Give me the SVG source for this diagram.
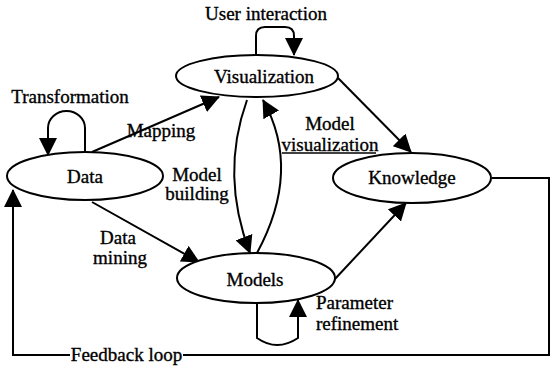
<svg xmlns="http://www.w3.org/2000/svg" width="552" height="366" viewBox="0 0 552 366">
<defs>
<marker id="ah" markerUnits="userSpaceOnUse" markerWidth="18" markerHeight="18" refX="17" refY="9" orient="auto"><path d="M0,0 L18,9 L0,18 z" fill="#000"/></marker>
<style>
.n ellipse{fill:#fff;stroke:#000;stroke-width:2}
text{font-family:"Liberation Serif","Times New Roman",serif;font-size:19px;fill:#000;stroke:#000;stroke-width:0.35}
.c{text-anchor:middle}
.e path,.e line{fill:none;stroke:#000;stroke-width:2}
.a{marker-end:url(#ah)}
</style>
</defs>
<rect width="552" height="366" fill="#fff"/>
<g id="connectors" class="e">
<path class="a" d="M92,152 L219,97"/>
<path class="a" d="M92,202 L199,262"/>
<path class="a" d="M247,100 Q220,175 250,253"/>
<path class="a" d="M257,253 Q302,170 263,100"/>
<path class="a" d="M338,78 L411,152"/>
<path class="a" d="M334,280 L406,203"/>
<path class="a" d="M85,152 V128 A18.5,17 0 0 0 48,128 V155"/>
<path class="a" d="M256,56 V36 Q256,27 265,27 H285 Q294,27 294,36 V55"/>
<path class="a" d="M257,303 V338 Q277,352 298,338 V300"/>
<path d="M492,178 H549 V355 H183"/>
<path class="a" d="M70,355 H13 V190"/>
<line x1="282" y1="153" x2="376" y2="153" style="stroke-width:1.5"/>
</g>
<g id="data" class="n"><ellipse cx="85" cy="176" rx="78" ry="24"/><text class="c" x="85" y="183">Data</text></g>
<g id="visualization" class="n"><ellipse cx="257" cy="76" rx="81" ry="21"/><text class="c" x="264" y="83">Visualization</text></g>
<g id="models" class="n"><ellipse cx="256" cy="278" rx="79" ry="25"/><text class="c" x="255" y="286">Models</text></g>
<g id="knowledge" class="n"><ellipse cx="412" cy="178" rx="79" ry="25"/><text class="c" x="412" y="184">Knowledge</text></g>
<g id="labels">
<text class="c" x="266" y="20">User interaction</text>
<text class="c" x="70" y="103">Transformation</text>
<text class="c" x="161" y="137">Mapping</text>
<text class="c" x="197" y="181">Model</text>
<text class="c" x="197" y="200">building</text>
<text class="c" x="330" y="130">Model</text>
<text class="c" x="330" y="151">visualization</text>
<text class="c" x="118" y="244">Data</text>
<text class="c" x="120" y="264">mining</text>
<text x="316" y="309">Parameter</text>
<text x="316" y="330">refinement</text>
<text class="c" x="126.5" y="361">Feedback loop</text>
</g>
</svg>
